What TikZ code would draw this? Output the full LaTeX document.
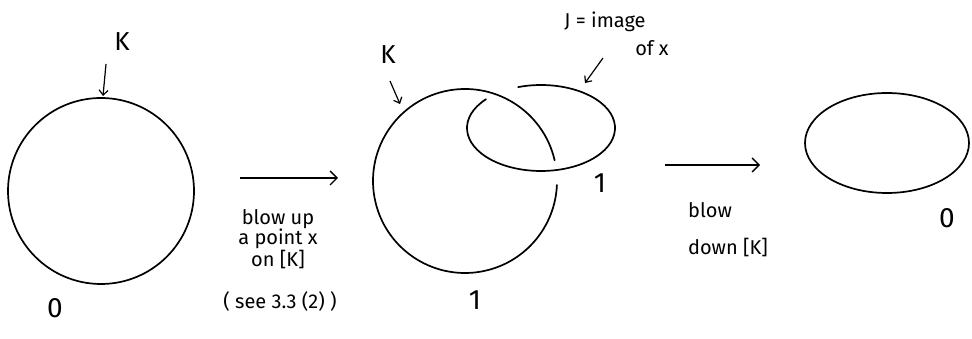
\documentclass[tikz,border=0pt]{standalone}
\usepackage{fontspec}
\setmainfont{Fira Sans}
\usetikzlibrary{arrows.meta}
\begin{document}
\begin{tikzpicture}[x=1pt,y=1pt,
  curve/.style={line width=1.7pt,line cap=round},
  maparrow/.style={line width=1.4pt,-{Straight Barb[length=7pt,width=14pt,line width=1.4pt]}},
  lblarrow/.style={line width=1.2pt,-{Straight Barb[length=5pt,width=9pt,line width=1.2pt]}},
  txt/.style={font=\fontsize{20}{18}\selectfont,align=center,inner sep=0pt},
  big/.style={font=\fontsize{26}{28}\selectfont,inner sep=0pt},
  num/.style={font=\fontsize{28}{30}\selectfont,inner sep=0pt}]
\useasboundingbox (0,0) rectangle (972,339);
% left circle
\draw[curve] (101,148) circle[radius=93];
\node[big] (k1) at (122,297) {K};
\coordinate (k1s) at (106,275);
\coordinate (k1e) at (103,243);
\draw[lblarrow] (k1s) -- (k1e);
\node[num] (n1) at (55,31) {0};
% first map
\coordinate (a1s) at (240,161);
\coordinate (a1e) at (338,161);
\draw[maparrow] (a1s) -- (a1e);
\node[txt] (t1) at (278,100) {blow up\\a point x\\on [K]};
\node[txt] (t2) at (280,37) {( see 3.3 (2) )};
% middle: K and J linked
\draw[curve] (465,158) ++(13:92) arc[start angle=13,end angle=357.5,radius=92];
\draw[curve] (541,211) ++(138:74 and 43) arc[start angle=138,end angle=468,x radius=74,y radius=43];
\node[big] (k2) at (388,284) {K};
\coordinate (k2s) at (390,258);
\coordinate (k2e) at (400,235);
\draw[lblarrow] (k2s) -- (k2e);
\node[txt] (j) at (605,317) {J = image};
\node[txt] (ofx) at (652,291) {of x};
\coordinate (js) at (603,281);
\coordinate (je) at (585,256);
\draw[lblarrow] (js) -- (je);
\node[num] (n2) at (600,156) {1};
\node[num] (n3) at (475,39) {1};
% second map
\coordinate (a2s) at (665,174);
\coordinate (a2e) at (760,174);
\draw[maparrow] (a2s) -- (a2e);
\node[txt] (t3) at (710,129) {blow};
\node[txt] (t4) at (728,91) {down [K]};
% right ellipse
\draw[curve] (887,196) ellipse[x radius=82,y radius=50];
\node[num] (n4) at (947,121) {0};
\end{tikzpicture}
\end{document}
